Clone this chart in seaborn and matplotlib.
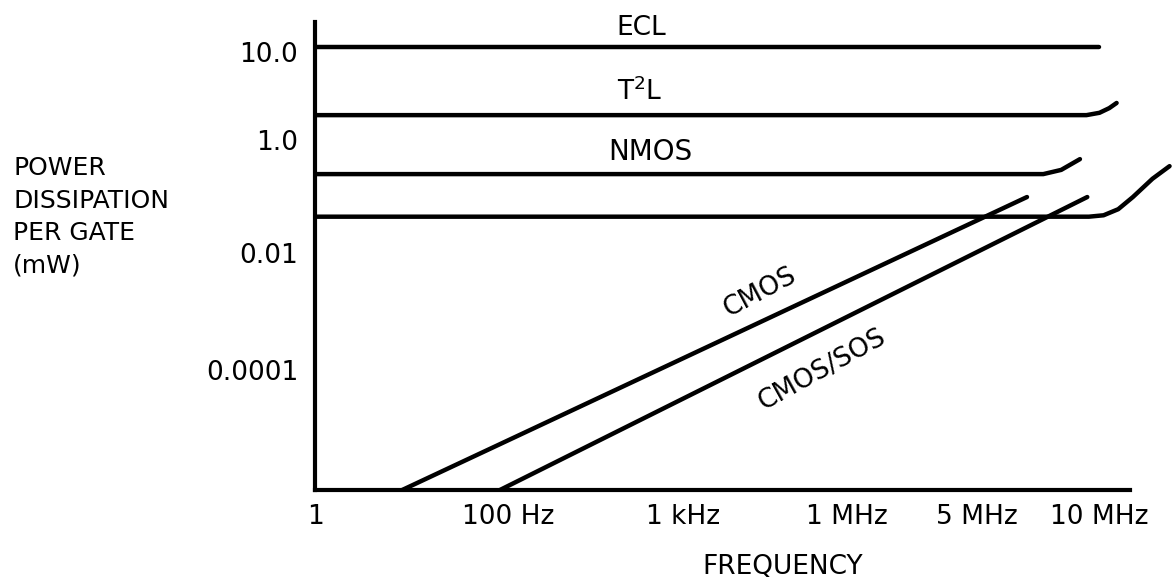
import matplotlib
matplotlib.use("Agg")
import matplotlib.pyplot as plt
import pandas as pd
import seaborn as sns

# ---- axis scale (drawing is not to scale: positions) ----
x_tick_pos = [0, 23.7, 45.2, 65.3, 81.3, 96.3]
x_tick_labels = ["1", "100 Hz", "1 kHz", "1 MHz", "5 MHz", "10 MHz"]
y_tick_pos = [25.6, 50.6, 74.8, 93.6]
y_tick_labels = ["0.0001", "0.01", "1.0", "10.0"]

# ---- curves (position units) ----
ecl_x = [0, 96.3]
ecl_y = [94.7, 94.7]
t2l_x = [0, 94.7, 96.3, 97.5, 98.4]
t2l_y = [80.1, 80.1, 80.6, 81.6, 82.7]
nmos_x = [0, 89.4, 91.6, 93.9]
nmos_y = [67.5, 67.5, 68.4, 70.7]
sosflat_x = [0, 95.0, 96.8, 98.6, 100.4, 102.8, 104.9]
sosflat_y = [58.4, 58.4, 58.7, 60.0, 62.6, 66.5, 69.2]
cmos_x = [10.7, 87.4]
cmos_y = [0, 62.6]
cmossos_x = [22.7, 94.8]
cmossos_y = [0, 62.6]

series = {
    "ECL": (ecl_x, ecl_y),
    "T2L": (t2l_x, t2l_y),
    "NMOS": (nmos_x, nmos_y),
    "CMOS/SOS flat": (sosflat_x, sosflat_y),
    "CMOS": (cmos_x, cmos_y),
    "CMOS/SOS": (cmossos_x, cmossos_y),
}
rows = []
for name, (xs, ys) in series.items():
    for i, (a, b) in enumerate(zip(xs, ys)):
        rows.append({"series": name, "x": a, "y": b, "order": i})
df = pd.DataFrame(rows)

sns.set_style("white")
plt.rcParams["font.family"] = ["DejaVu Sans"]
plt.rcParams["text.color"] = "black"

fig = plt.figure(figsize=(11.72, 5.88), dpi=100)
ax = fig.add_axes([315 / 1172, 98 / 588, 1 - 315 / 1172, 468 / 588])

sns.lineplot(data=df, x="x", y="y", units="series", estimator=None, sort=False,
             color="black", linewidth=3.2, legend=False, ax=ax)

ax.set_xlim(0, 105.2)
ax.set_ylim(0, 100)
ax.set_xlabel("")
ax.set_ylabel("")

for s in ["top", "right"]:
    ax.spines[s].set_visible(False)
for s in ["left", "bottom"]:
    ax.spines[s].set_color("black")
    ax.spines[s].set_linewidth(3)
ax.spines["bottom"].set_bounds(0, 100)

ax.set_xticks(x_tick_pos)
ax.set_xticklabels(x_tick_labels, fontsize=19, color="black")
ax.set_yticks(y_tick_pos)
ax.set_yticklabels(y_tick_labels, fontsize=19, color="black")
ax.tick_params(axis="both", length=0, colors="black")
ax.tick_params(axis="x", pad=10)
ax.tick_params(axis="y", pad=12)

# curve labels
ax.text(40.0, 98.7, "ECL", ha="center", va="center", fontsize=19, color="black")
ax.text(39.9, 85.0, r"T$^{2}$L", ha="center", va="center", fontsize=19, color="black")
ax.text(41.1, 72.2, "NMOS", ha="center", va="center", fontsize=20, color="black")
ax.text(54.6, 42.3, "CMOS", ha="center", va="center", fontsize=19, rotation=28,
        color="black")
ax.text(62.3, 25.6, "CMOS/SOS", ha="center", va="center", fontsize=19, rotation=29,
        color="black")

# axis titles
fig.text(783 / 1172, 1 - 567 / 588, "FREQUENCY", ha="center", va="center",
         fontsize=19, color="black")
fig.text(13 / 1172, 1 - 217 / 588, "POWER\nDISSIPATION\nPER GATE\n(mW)",
         ha="left", va="center", fontsize=18, linespacing=1.45, color="black")

fig.savefig("out.png", dpi=100)
